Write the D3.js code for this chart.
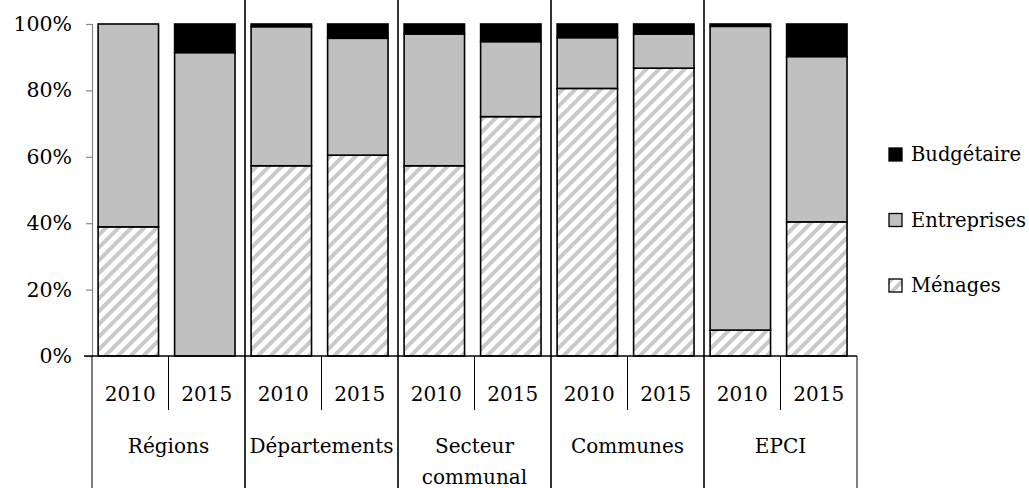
<!DOCTYPE html>
<html>
<head>
<meta charset="utf-8">
<script src="https://cdn.jsdelivr.net/npm/d3@7"></script>
<style>
  html, body { margin: 0; padding: 0; background: #fff; }
  svg { display: block; font-family: "DejaVu Serif", serif; }
</style>
</head>
<body>
<svg id="chart" width="1029" height="488"></svg>
<script>
const groups = ["Régions", "Départements", "Secteur communal", "Communes", "EPCI"];
const years = ["2010", "2015"];
const seriesKeys = ["Ménages", "Entreprises", "Budgétaire"];
const menages     = [38.9, 0.0, 57.3, 60.5, 57.3, 72.1, 80.6, 86.7, 7.8, 40.4];
const entreprises = [61.1, 91.4, 41.9, 35.2, 39.7, 22.6, 15.3, 10.3, 91.5, 49.8];
const budgetaire  = [0.0, 8.6, 0.8, 4.3, 3.0, 5.3, 4.1, 3.0, 0.7, 9.8];
const yTicks = [0, 20, 40, 60, 80, 100];
const legendOrder = ["Budgétaire", "Entreprises", "Ménages"];

const rows = menages.map((m, i) => ({
  idx: i,
  group: groups[Math.floor(i / 2)],
  year: years[i % 2],
  "Ménages": m,
  "Entreprises": entreprises[i],
  "Budgétaire": budgetaire[i]
}));

const svg = d3.select("#chart");
const mLeft = 92, mRight = 857, mTop = 24, mBottom = 356;

const x = d3.scaleBand().domain(rows.map(d => d.idx)).range([mLeft, mRight])
  .paddingInner(0.21).paddingOuter(0.105).align(0.38);
const slot = d3.scaleBand().domain(rows.map(d => d.idx)).range([mLeft, mRight]);
const y = d3.scaleLinear().domain([0, 100]).range([mBottom, mTop]);

const defs = svg.append("defs");
const pat = defs.append("pattern").attr("id", "hatch")
  .attr("patternUnits", "userSpaceOnUse").attr("width", 9).attr("height", 9)
  .attr("patternTransform", "rotate(45)");
pat.append("rect").attr("width", 9).attr("height", 9).attr("fill", "#ffffff");
pat.append("rect").attr("x", 0).attr("width", 4).attr("height", 9).attr("fill", "#c9c9c9");

const fills = { "Ménages": "url(#hatch)", "Entreprises": "#c0c0c0", "Budgétaire": "#000000" };

// group separators through plot
const groupBounds = d3.range(1, groups.length).map(g => slot(g * 2));
svg.append("g").selectAll("line").data(groupBounds).join("line")
  .attr("x1", d => d).attr("x2", d => d).attr("y1", 0).attr("y2", 488)
  .attr("stroke", "#333").attr("stroke-width", 2);

// bars
const stacked = d3.stack().keys(seriesKeys)(rows);
svg.append("g").selectAll("g").data(stacked).join("g")
  .selectAll("rect").data(s => s.map(d => ({ key: s.key, d })).filter(o => o.d[1] - o.d[0] > 0.001))
  .join("rect")
  .attr("x", o => x(o.d.data.idx))
  .attr("width", x.bandwidth())
  .attr("y", o => y(o.d[1]))
  .attr("height", o => y(o.d[0]) - y(o.d[1]))
  .attr("fill", o => fills[o.key])
  .attr("stroke", "#000").attr("stroke-width", 1.6);

// y axis
const yAxis = d3.axisLeft(y).tickValues(yTicks).tickFormat(d => d + "%").tickSize(6).tickPadding(14);
const ya = svg.append("g").attr("transform", `translate(${mLeft},0)`).call(yAxis);
ya.select(".domain").attr("stroke", "#888").attr("stroke-width", 1.2);
ya.selectAll(".tick line").attr("stroke", "#888").attr("stroke-width", 1.2);
ya.selectAll(".tick text").attr("font-size", 20.5).attr("font-family", "DejaVu Serif").attr("fill", "#000");

// x baseline
svg.append("line").attr("x1", 84).attr("x2", mRight).attr("y1", mBottom).attr("y2", mBottom)
  .attr("stroke", "#000").attr("stroke-width", 1.5);

// year separators (within group)
const yearSeps = d3.range(groups.length).map(g => slot(g * 2 + 1));
svg.append("g").selectAll("line").data(yearSeps).join("line")
  .attr("x1", d => d).attr("x2", d => d).attr("y1", mBottom).attr("y2", 410)
  .attr("stroke", "#000").attr("stroke-width", 1);
// outer edges
svg.append("g").selectAll("line").data([mLeft, mRight]).join("line")
  .attr("x1", d => d).attr("x2", d => d).attr("y1", mBottom).attr("y2", 488)
  .attr("stroke", "#000").attr("stroke-width", 1);

// year labels
svg.append("g").selectAll("text").data(rows).join("text")
  .attr("x", d => slot(d.idx) + slot.bandwidth() / 2)
  .attr("y", 401)
  .attr("text-anchor", "middle").attr("font-size", 20)
  .text(d => d.year);

// group labels
const gl = svg.append("g").selectAll("text").data(groups).join("text")
  .attr("x", (d, i) => slot(i * 2) + slot.bandwidth())
  .attr("y", 453)
  .attr("text-anchor", "middle").attr("font-size", 20);
gl.each(function(d) {
  const parts = d === "Secteur communal" ? ["Secteur", "communal"] : [d];
  const t = d3.select(this);
  parts.forEach((p, k) => {
    t.append("tspan").attr("x", t.attr("x")).attr("dy", k === 0 ? 0 : 31).text(p);
  });
});

// legend
const lg = svg.append("g").selectAll("g").data(legendOrder).join("g")
  .attr("transform", (d, i) => `translate(889, ${148 + i * 65.5})`);
lg.append("rect").attr("width", 13).attr("height", 13)
  .attr("fill", d => fills[d]).attr("stroke", "#000").attr("stroke-width", 1.3);
lg.append("text").attr("x", 22).attr("y", 13).attr("font-size", 19.5).text(d => d);
</script>
</body>
</html>
